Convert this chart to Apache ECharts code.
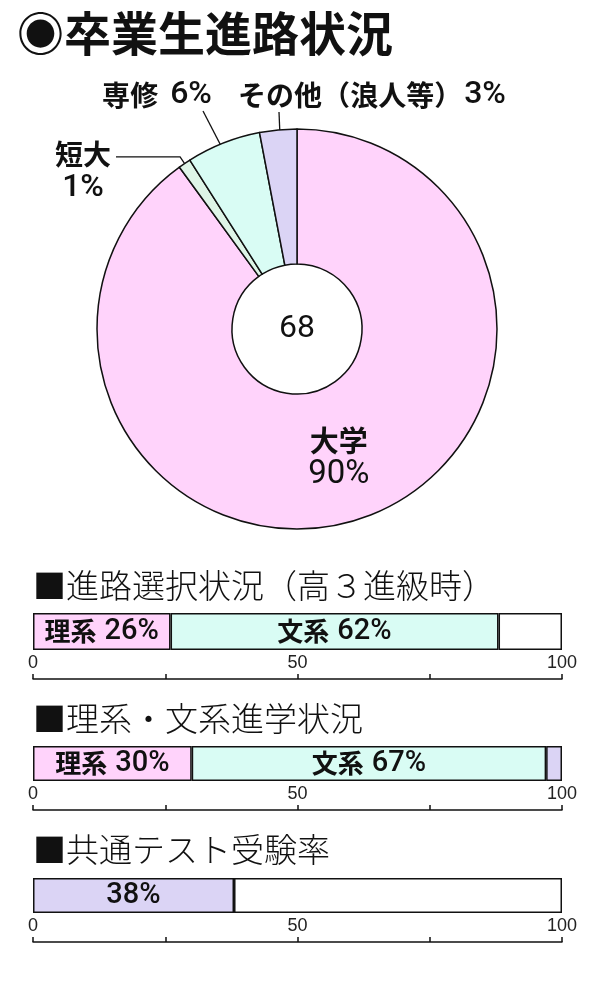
<!DOCTYPE html>
<html>
<head>
<meta charset="utf-8">
<script src="https://cdn.jsdelivr.net/npm/echarts@6/dist/echarts.min.js"></script>
<style>
  html, body { margin: 0; padding: 0; background: #fff; }
  #chart { width: 600px; height: 1000px; }
</style>
</head>
<body>
<div id="chart"></div>
<script>
// chart values
const titleText = '◉卒業生進路状況'
const pieNames = ['大学', '短大', '専修', 'その他（浪人等）']
const pieValues = [90, 1, 6, 3]
const graduateCount = '68'

const barTitles = ['■進路選択状況（高３進級時）', '■理系・文系進学状況', '■共通テスト受験率']
const choiceNames = ['理系', '文系', '未定']
const choiceValues = [26, 62, 12]
const courseNames = ['理系', '文系', 'その他']
const courseValues = [30, 67, 3]
const testNames = ['受験', '未受験']
const testValues = [38, 62]
const axisLabelValues = [0, 50, 100]

// styles
const PINK = '#ffd3fb'
const CYAN = '#d9fcf4'
const LAVENDER = '#dbd4f5'
const GREEN = '#def5e7'
const INK = '#111'
const JP = '"Noto Sans CJK JP", "Noto Sans", sans-serif'
const LATIN = 'Roboto, "Liberation Sans", Arial, sans-serif'
const NUM = '"Liberation Sans Narrow", "Liberation Sans", sans-serif'

const pieColors = [PINK, GREEN, CYAN, LAVENDER]
const pieCenter = [297, 329]
const pieLabelPlaces = [
  null,
  { x: 83, y: 171, from: 116, bend: 208, end: 190 },
  { x: 157, y: 95, from: [203, 111], end: 166 },
  { x: 372, y: 95, from: [279, 112], end: 170 }
]
const pieGaps = [0, 0, 12, 2]
const pieBreaks = [true, true, false, false]

const bars = [
  { names: choiceNames, values: choiceValues, colors: [PINK, CYAN, '#fff'], labeled: [true, true, false], format: '{n|{a}}{v|{c}%}', top: 613, height: 37, titleY: 588 },
  { names: courseNames, values: courseValues, colors: [PINK, CYAN, LAVENDER], labeled: [true, true, false], format: '{n|{a}}{v|{c}%}', top: 746, height: 35, titleY: 721 },
  { names: testNames, values: testValues, colors: [LAVENDER, '#fff'], labeled: [true, false], format: '{v|{c}%}', top: 878, height: 35, titleY: 852 }
]

const pieTotal = pieValues.reduce((a, b) => a + b, 0)

/** point on the mid angle of a slice, clockwise from 12 o'clock */
function slicePoint(index, r) {
  const before = pieValues.slice(0, index).reduce((a, b) => a + b, 0)
  const angle = ((before + pieValues[index] / 2) / pieTotal) * Math.PI * 2
  return [pieCenter[0] + r * Math.sin(angle), pieCenter[1] - r * Math.cos(angle)]
}

function layoutPieLabel(params) {
  const place = pieLabelPlaces[params.dataIndex]
  if (!place) return
  const end = slicePoint(params.dataIndex, place.end)
  let start, mid
  if (place.bend) {
    mid = slicePoint(params.dataIndex, place.bend)
    start = [place.from, mid[1]]
  } else {
    start = place.from
    mid = start
  }
  return {
    x: place.x,
    y: place.y,
    align: 'center',
    verticalAlign: 'middle',
    labelLinePoints: [start, mid, end]
  }
}

const pieData = pieNames.map((name, i) => {
  const big = i === 0
  return {
    name,
    value: pieValues[i],
    itemStyle: { color: pieColors[i] },
    labelLine: { show: !big },
    label: {
      position: big ? 'inside' : 'outside',
      formatter: '{n|{b}}' + (pieBreaks[i] ? '\n' : '') + '{v|{c}%}',
      rich: {
        n: {
          fontFamily: JP,
          fontSize: big ? 29 : 28,
          fontWeight: 'bold',
          color: INK,
          lineHeight: 33,
          padding: [0, pieGaps[i], 0, 0]
        },
        v: {
          fontFamily: LATIN,
          fontSize: big ? 33 : 32,
          fontWeight: big ? 'normal' : 500,
          color: INK,
          lineHeight: 33
        }
      }
    }
  }
})

const grids = []
const xAxes = []
const yAxes = []
const barSeries = []
const texts = [
  { type: 'text', left: 17, top: 10, style: { text: titleText, font: 'bold 47px ' + JP, fill: INK } }
]

bars.forEach((bar, gi) => {
  grids.push({ left: 33, width: 529, top: bar.top, height: bar.height })
  xAxes.push({
    gridIndex: gi,
    type: 'value',
    min: 0,
    max: 100,
    interval: 25,
    position: 'bottom',
    offset: 29,
    axisLine: { show: true, lineStyle: { color: INK, width: 1.5 } },
    axisTick: { show: true, inside: true, length: 5, lineStyle: { color: INK, width: 1.5 } },
    axisLabel: {
      inside: true,
      margin: 7,
      showMinLabel: true,
      showMaxLabel: true,
      color: '#222',
      fontFamily: NUM,
      fontSize: 18,
      formatter: (v) => (axisLabelValues.includes(v) ? String(v) : '')
    },
    splitLine: { show: false }
  })
  yAxes.push({ gridIndex: gi, type: 'category', data: [''], show: false })
  bar.values.forEach((v, si) => {
    barSeries.push({
      type: 'bar',
      name: bar.names[si],
      xAxisIndex: gi,
      yAxisIndex: gi,
      stack: 'bar' + gi,
      data: [v],
      barWidth: '100%',
      silent: true,
      itemStyle: { color: bar.colors[si], borderColor: INK, borderWidth: 1.5 },
      label: {
        show: bar.labeled[si],
        position: 'inside',
        formatter: bar.format,
        rich: {
          n: { fontFamily: JP, fontSize: 26, fontWeight: 'bold', color: INK, padding: [0, 8, 0, 0] },
          v: { fontFamily: LATIN, fontSize: 29, fontWeight: 500, color: INK }
        }
      }
    })
  })
  texts.push({
    type: 'text',
    left: 33,
    top: bar.titleY - 19,
    style: { text: barTitles[gi], font: '300 33px ' + JP, fill: INK }
  })
})

texts.push({
  type: 'text',
  x: pieCenter[0],
  y: pieCenter[1],
  style: {
    text: graduateCount,
    font: '32px ' + LATIN,
    fill: INK,
    align: 'center',
    verticalAlign: 'middle',
    textAlign: 'center',
    textVerticalAlign: 'middle'
  }
})

const chart = echarts.init(document.getElementById('chart'), null, { renderer: 'canvas' })

chart.setOption({
  animation: false,
  backgroundColor: '#fff',
  grid: grids,
  xAxis: xAxes,
  yAxis: yAxes,
  graphic: texts,
  series: [
    {
      type: 'pie',
      center: pieCenter,
      radius: [65, 200],
      startAngle: 90,
      clockwise: true,
      avoidLabelOverlap: false,
      silent: true,
      itemStyle: { borderColor: INK, borderWidth: 1.5 },
      label: { show: true, color: INK },
      labelLine: { show: true, lineStyle: { color: INK, width: 1.3 } },
      labelLayout: layoutPieLabel,
      data: pieData
    },
    ...barSeries
  ]
})
</script>
</body>
</html>
